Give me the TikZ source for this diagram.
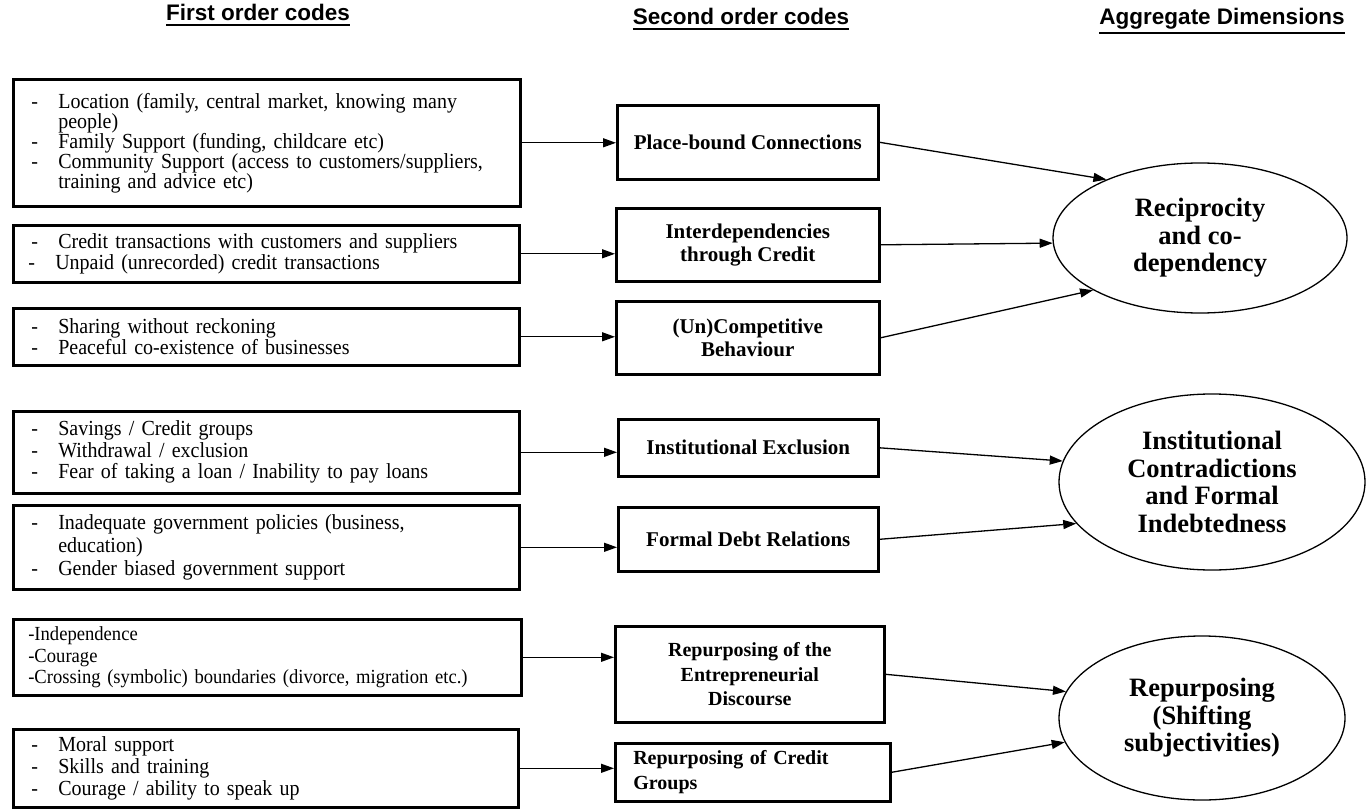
\documentclass[tikz,border=0pt]{standalone}
\usepackage{fontspec}
\setmainfont{Liberation Serif}
\newfontfamily\headfont{Liberation Sans}
\newfontfamily\codefont{Liberation Serif}[FakeStretch=0.93,WordSpace=0.85]
\usetikzlibrary{arrows.meta,positioning,shapes.geometric}

\newcommand{\dashit}{\makebox[27pt][l]{-}}
\newcommand{\hangit}{\hspace*{27pt}}
\newcommand{\headline}[1]{\leavevmode\vtop{\hbox{#1}\kern2.5pt\hrule height 2pt}}

\begin{document}
\begin{tikzpicture}[x=1pt,y=-1pt,>={Triangle[length=13pt,width=9pt]},
  head/.style={font=\headfont\bfseries\fontsize{22.5}{24}\selectfont, anchor=base, inner sep=0pt},
  first/.style={draw, line width=2.6pt, anchor=north west, align=left, inner xsep=18pt, inner ysep=0pt, font=\codefont\fontsize{21.5}{20}\selectfont},
  second/.style={draw, line width=2.6pt, anchor=north west, align=center, inner sep=0pt, font=\bfseries\fontsize{21}{23}\selectfont},
  dim/.style={draw, ellipse, line width=1.3pt, inner sep=0pt, align=center, font=\bfseries\fontsize{26.5}{27.5}\selectfont},
  link/.style={->, line width=1.3pt}]
\useasboundingbox (0,0) rectangle (1367,810);

% column headings
\node[head] (h1) at (258,21) {\headline{First order codes}};
\node[head] (h2) at (741,25) {\headline{Second order codes}};
\node[head] (h3) at (1222,25) {\headline{Aggregate Dimensions}};

% first order codes
\node[first, text width=471pt, minimum height=127pt] (b1) at (12,78) {\dashit Location (family, central market, knowing many\\
  \hangit people)\\
  \dashit Family Support (funding, childcare etc)\\
  \dashit Community Support (access to customers/suppliers,\\
  \hangit training and advice etc)};
\node[first, text width=470pt, minimum height=57pt, font=\codefont\fontsize{21.5}{21}\selectfont] (b2) at (12,224) {\dashit Credit transactions with customers and suppliers\\
  \hspace*{-3pt}\dashit Unpaid (unrecorded) credit transactions};
\node[first, text width=470pt, minimum height=57pt, font=\codefont\fontsize{21.5}{21}\selectfont] (b3) at (12,307) {\dashit Sharing without reckoning\\
  \dashit Peaceful co-existence of businesses};
\node[first, text width=470pt, minimum height=82pt, font=\codefont\fontsize{21.5}{21.5}\selectfont] (b4) at (12,410) {\dashit Savings / Credit groups\\
  \dashit Withdrawal / exclusion\\
  \dashit Fear of taking a loan / Inability to pay loans};
\node[first, text width=470pt, minimum height=84pt, font=\codefont\fontsize{21.5}{23}\selectfont] (b5) at (12,504) {\dashit Inadequate government policies (business,\\
  \hangit education)\\
  \dashit Gender biased government support};
\node[first, text width=478pt, inner xsep=15pt, minimum height=76pt, font=\codefont\fontsize{20}{21.5}\selectfont] (b6) at (12,618) {-Independence\\
  -Courage\\
  -Crossing (symbolic) boundaries (divorce, migration etc.)};
\node[first, text width=469pt, minimum height=78pt, font=\codefont\fontsize{21.5}{22}\selectfont] (b7) at (12,728) {\dashit Moral support\\
  \dashit Skills and training\\
  \dashit Courage / ability to speak up};

% second order codes
\node[second, minimum width=261pt, minimum height=74pt] (m1) at (616,104) {Place-bound Connections};
\node[second, minimum width=263pt, minimum height=73pt] (m2) at (615,207) {Interdependencies\\ through Credit};
\node[second, minimum width=263pt, minimum height=73pt] (m3) at (615,300) {(Un)Competitive\\ Behaviour};
\node[second, minimum width=260pt, minimum height=57pt] (m4) at (617,418) {Institutional Exclusion};
\node[second, minimum width=260pt, minimum height=64pt] (m5) at (617,506) {Formal Debt Relations};
\node[second, minimum width=269pt, minimum height=96pt, font=\bfseries\fontsize{20}{24.5}\selectfont] (m6) at (614,625) {Repurposing of the\\ Entrepreneurial\\ Discourse};
\node[second, align=left, text width=239pt, inner xsep=18pt, minimum height=58pt, font=\bfseries\fontsize{20}{24.5}\selectfont] (m7) at (614,742) {Repurposing of Credit\\ Groups};

% aggregate dimensions
\node[dim, minimum width=294pt, minimum height=150pt] (e1) at (1200,238) {Reciprocity\\ and co-\\ dependency};
\node[dim, minimum width=306pt, minimum height=176pt] (e2) at (1212,482) {Institutional\\ Contradictions\\ and Formal\\ Indebtedness};
\node[dim, minimum width=286pt, minimum height=164pt] (e3) at (1202,718) {Repurposing\\ (Shifting\\ subjectivities)};

% links
\foreach \i in {1,...,7}
  \draw[link] (b\i.east) -- (b\i.east -| m\i.west);
\draw[link] (m1.east) -- (e1.148);
\draw[link] (m2.east) -- (e1.182);
\draw[link] (m3.east) -- (e1.206);
\draw[link] (m4.east) -- (e2.172);
\draw[link] (m5.east) -- (e2.197);
\draw[link] (m6.east) -- (e3.169);
\draw[link] (m7.east) -- (e3.190);
\end{tikzpicture}
\end{document}
